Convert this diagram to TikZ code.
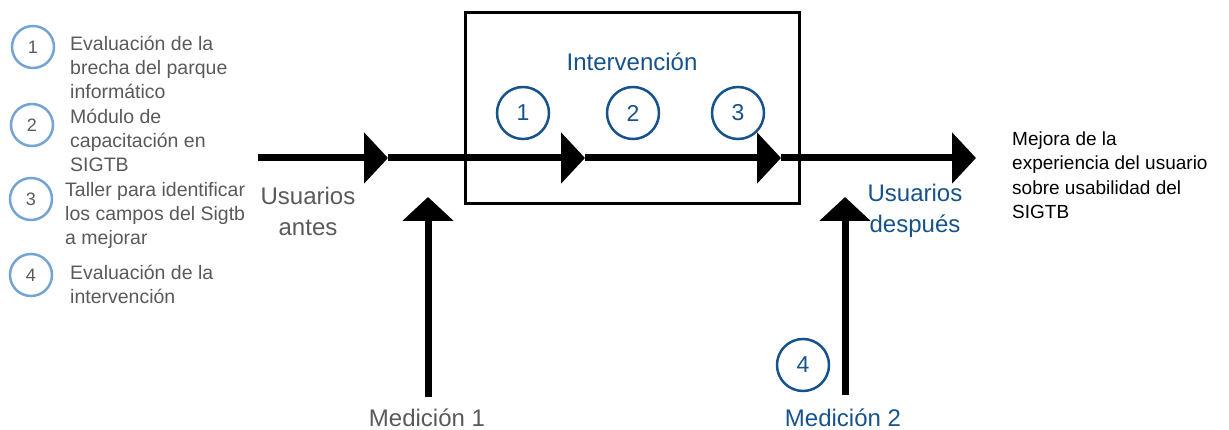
\documentclass[tikz,border=0pt]{standalone}
\usepackage{fontspec}
\setmainfont{Liberation Sans}
\usetikzlibrary{positioning, arrows.meta}
\definecolor{navy}{RGB}{22,82,140}
\definecolor{softblue}{RGB}{116,164,212}
\definecolor{darkgray}{RGB}{89,89,89}

\tikzset{
    flow/.style={line width=7pt, -{Triangle[length=24pt, width=50pt]}},
    stepnum/.style={circle, draw=navy, line width=2.5pt, minimum size=52pt, inner sep=0pt, text=navy, font=\fontsize{23}{26}\selectfont},
    legendnum/.style={circle, draw=softblue, line width=2.5pt, minimum size=42pt, inner sep=0pt, text=darkgray, font=\fontsize{18}{20}\selectfont},
    legendtext/.style={anchor=west, align=left, inner sep=0pt, text=darkgray, font=\fontsize{19.5}{24}\selectfont},
    biglabel/.style={align=center, inner sep=0pt, font=\fontsize{24}{31}\selectfont}
}

\begin{document}
\begin{tikzpicture}[x=1pt, y=-1pt]
    \useasboundingbox (0,0) rectangle (1229,430);

    % Legend
    \node[legendnum] (l1) at (33,47) {1};
    \node[legendnum] (l2) at (32,125) {2};
    \node[legendnum] (l3) at (31,199) {3};
    \node[legendnum] (l4) at (31,275) {4};
    \node[legendtext] (t1) at (70,67) {Evaluación de la\\brecha del parque\\informático};
    \node[legendtext] (t2) at (70,140) {Módulo de\\capacitación en\\SIGTB};
    \node[legendtext] (t3) at (65,215) {Taller para identificar\\los campos del Sigtb\\a mejorar};
    \node[legendtext] (t4) at (70,284) {Evaluación de la\\intervención};

    % Intervention box
    \draw[line width=3pt] (465,13) rectangle (799,204);
    \node[biglabel, text=navy] (interv) at (632,62) {Intervención};
    \node[stepnum] (s1) at (523,113) {1};
    \node[stepnum] (s2) at (633,113) {2};
    \node[stepnum] (s3) at (738,113) {3};

    % Main flow
    \coordinate (start) at (258,158);
    \coordinate (a1) at (388,158);
    \coordinate (a2) at (585,158);
    \coordinate (a3) at (781,158);
    \coordinate (goal) at (976,158);
    \draw[flow] (start) -- (a1);
    \draw[flow] (a1) -- (a2);
    \draw[flow] (a2) -- (a3);
    \draw[flow] (a3) -- (goal);

    \node[biglabel, text=darkgray] (antes) at (308,211) {Usuarios\\antes};
    \node[biglabel, text=navy] (despues) at (915,211) {Usuarios\\después};
    \node[anchor=west, align=left, inner sep=0pt, font=\fontsize{19}{24.5}\selectfont] (mejora) at (1012,175) {Mejora de la\\experiencia del usuario\\sobre usabilidad del\\SIGTB};

    % Measurements
    \node[biglabel, text=darkgray] (med1) at (427,418) {Medición 1};
    \node[biglabel, text=navy] (med2) at (843,418) {Medición 2};
    \node[stepnum] (s4) at (803,365) {4};
    \coordinate (m1low) at (428,397);
    \coordinate (m1top) at (428,197);
    \coordinate (m2low) at (845,395);
    \coordinate (m2top) at (845,197);
    \draw[flow] (m1low) -- (m1top);
    \draw[flow] (m2low) -- (m2top);
\end{tikzpicture}
\end{document}
